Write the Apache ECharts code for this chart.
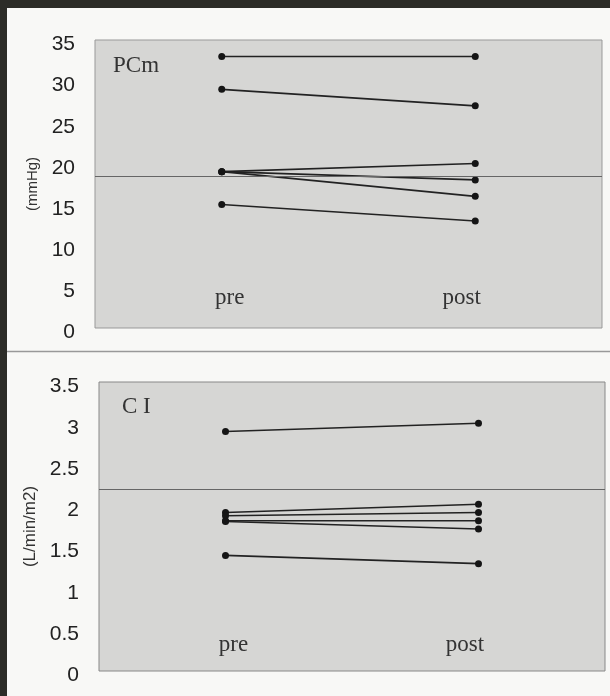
<!DOCTYPE html>
<html>
<head>
<meta charset="utf-8">
<script src="https://cdn.jsdelivr.net/npm/echarts@6/dist/echarts.min.js"></script>
<style>
	html, body { margin: 0; padding: 0; background: #f8f8f6; }
	#chartBox { width: 610px; height: 696px; }
</style>
</head>
<body>
<div id="chartBox"></div>
<script>
// categories and values
var categories = ['pre', 'post'];

var pcmPre = [33, 29, 19, 19, 19, 15];
var pcmPost = [33, 27, 20, 18, 16, 13];
var pcmRef = 18.5;

var ciPre = [2.9, 1.92, 1.88, 1.82, 1.81, 1.4];
var ciPost = [3.0, 2.02, 1.92, 1.82, 1.72, 1.3];
var ciRef = 2.2;

window.addEventListener('load', function() {
	var myChart = echarts.init(document.getElementById('chartBox'));

	var serif = '"Liberation Serif", "DejaVu Serif", serif';
	var sans = '"Liberation Sans", Arial, sans-serif';

	function pairSeries(pre, post, gridIdx, ref) {
		var list = [];
		for (var i = 0; i < pre.length; i++) {
			var s = {
				type: 'line',
				xAxisIndex: gridIdx,
				yAxisIndex: gridIdx,
				data: [pre[i], post[i]],
				symbol: 'circle',
				symbolSize: 7,
				itemStyle: { color: '#151515' },
				lineStyle: { color: '#222', width: 1.6 },
				silent: true,
				animation: false
			};
			if (i == 0) {
				s.markLine = {
					silent: true,
					symbol: 'none',
					label: { show: false },
					lineStyle: { color: '#666', width: 1, type: 'solid' },
					data: [{ yAxis: ref }]
				};
			}
			list.push(s);
		}
		return list;
	}

	function xAxisOpt(gridIdx, margin) {
		return {
			type: 'category',
			gridIndex: gridIdx,
			data: categories,
			boundaryGap: true,
			axisLine: { show: false },
			axisTick: { show: false },
			axisLabel: {
				inside: true,
				margin: margin,
				formatter: function(v) {
					return v == 'pre' ? '{a|pre}' : '{b|post}';
				},
				rich: {
					a: { fontFamily: serif, fontSize: 23, color: '#333', padding: [0, 0, 0, 16] },
					b: { fontFamily: serif, fontSize: 23, color: '#333', padding: [0, 27, 0, 0] }
				}
			}
		};
	}

	function yAxisOpt(gridIdx, max, interval, name, nameSize) {
		return {
			type: 'value',
			gridIndex: gridIdx,
			min: 0,
			max: max,
			interval: interval,
			name: name,
			nameLocation: 'middle',
			nameGap: 50,
			nameTextStyle: { fontFamily: sans, fontSize: nameSize, color: '#333' },
			axisLine: { show: false },
			axisTick: { show: false },
			splitLine: { show: false },
			// scanned labels sit a few px below their ticks
			axisLabel: { fontFamily: sans, fontSize: 21, color: '#222', margin: 20, verticalAlign: 'top', lineHeight: 9 }
		};
	}

	var option = {
		backgroundColor: '#f8f8f6',
		animation: false,
		title: [
			{ text: 'PCm', left: 108, top: 49, textStyle: { fontFamily: serif, fontSize: 23, fontWeight: 'normal', color: '#333' } },
			{ text: 'C I', left: 117, top: 390, textStyle: { fontFamily: serif, fontSize: 23, fontWeight: 'normal', color: '#333' } }
		],
		grid: [
			{ left: 95, top: 40, right: 8, bottom: 368, show: true, backgroundColor: '#d6d6d4', borderColor: '#999', borderWidth: 1 },
			{ left: 99, top: 382, right: 5, bottom: 25, show: true, backgroundColor: '#d6d6d4', borderColor: '#888', borderWidth: 1 }
		],
		xAxis: [xAxisOpt(0, 19), xAxisOpt(1, 15)],
		yAxis: [
			yAxisOpt(0, 35, 5, '(mmHg)', 15),
			yAxisOpt(1, 3.5, 0.5, '(L/min/m2)', 17)
		],
		series: pairSeries(pcmPre, pcmPost, 0, pcmRef).concat(pairSeries(ciPre, ciPost, 1, ciRef)),
		graphic: [
			{ type: 'rect', shape: { x: 0, y: 0, width: 610, height: 8 }, style: { fill: '#2c2c27' } },
			{ type: 'rect', shape: { x: 0, y: 0, width: 7, height: 696 }, style: { fill: '#2c2c27' } },
			{ type: 'line', shape: { x1: 7, y1: 351.5, x2: 610, y2: 351.5 }, style: { stroke: '#999', lineWidth: 1.5 } }
		]
	};
	myChart.setOption(option);
});
</script>
</body>
</html>
